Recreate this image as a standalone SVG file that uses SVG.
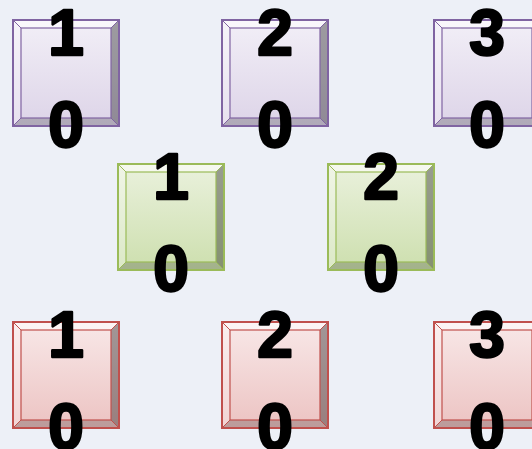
<svg xmlns="http://www.w3.org/2000/svg" width="532" height="449" viewBox="0 0 532 449">
<defs>
<linearGradient id="gp" x1="0" y1="0" x2="0" y2="1"><stop offset="0" stop-color="#f2eff7"/><stop offset="1" stop-color="#ddd4e8"/></linearGradient>
<linearGradient id="gg" x1="0" y1="0" x2="0" y2="1"><stop offset="0" stop-color="#eaf1dd"/><stop offset="1" stop-color="#cddfae"/></linearGradient>
<linearGradient id="gr" x1="0" y1="0" x2="0" y2="1"><stop offset="0" stop-color="#f8e8e8"/><stop offset="1" stop-color="#ecc3c2"/></linearGradient>
<g id="bev">
<path d="M0,0 L106,0 L98,8 L8,8 Z" fill="#ffffff" fill-opacity="0.55"/>
<path d="M0,0 L8,8 L8,98 L0,106 Z" fill="#ffffff" fill-opacity="0.3"/>
<path d="M106,0 L106,106 L98,98 L98,8 Z" fill="#000000" fill-opacity="0.35"/>
<path d="M0,106 L8,98 L98,98 L106,106 Z" fill="#000000" fill-opacity="0.2"/>
</g>
</defs>
<style>
.t{font-family:"Liberation Sans",Arial,sans-serif;font-weight:bold;font-size:64px;fill:#000;stroke:#000;stroke-width:2.5;stroke-linejoin:round;text-anchor:middle}
.p{stroke:#8064a2}.g{stroke:#9bbb59}.r{stroke:#c0504d}
.o{stroke-width:2}.i{fill:none;stroke-width:1.2}
</style>
<rect width="532" height="449" fill="#edf0f7"/>
<g id="p1" transform="translate(13,20)"><rect width="106" height="106" fill="url(#gp)"/><use href="#bev"/><rect x="8" y="8" width="90" height="90" class="i p"/><path d="M0,0 L8,8 M106,0 L98,8 M0,106 L8,98 M106,106 L98,98" class="p" stroke-width="1"/><rect width="106" height="106" fill="none" class="o p"/><text class="t" x="53" y="35">1</text><text class="t" x="53" y="127">0</text></g>
<g id="p2" transform="translate(222,20)"><rect width="106" height="106" fill="url(#gp)"/><use href="#bev"/><rect x="8" y="8" width="90" height="90" class="i p"/><path d="M0,0 L8,8 M106,0 L98,8 M0,106 L8,98 M106,106 L98,98" class="p" stroke-width="1"/><rect width="106" height="106" fill="none" class="o p"/><text class="t" x="53" y="35">2</text><text class="t" x="53" y="127">0</text></g>
<g id="p3" transform="translate(434,20)"><rect width="106" height="106" fill="url(#gp)"/><use href="#bev"/><rect x="8" y="8" width="90" height="90" class="i p"/><path d="M0,0 L8,8 M106,0 L98,8 M0,106 L8,98 M106,106 L98,98" class="p" stroke-width="1"/><rect width="106" height="106" fill="none" class="o p"/><text class="t" x="53" y="35">3</text><text class="t" x="53" y="127">0</text></g>
<g id="g1" transform="translate(118,164)"><rect width="106" height="106" fill="url(#gg)"/><use href="#bev"/><rect x="8" y="8" width="90" height="90" class="i g"/><path d="M0,0 L8,8 M106,0 L98,8 M0,106 L8,98 M106,106 L98,98" class="g" stroke-width="1"/><rect width="106" height="106" fill="none" class="o g"/><text class="t" x="53" y="35">1</text><text class="t" x="53" y="127">0</text></g>
<g id="g2" transform="translate(328,164)"><rect width="106" height="106" fill="url(#gg)"/><use href="#bev"/><rect x="8" y="8" width="90" height="90" class="i g"/><path d="M0,0 L8,8 M106,0 L98,8 M0,106 L8,98 M106,106 L98,98" class="g" stroke-width="1"/><rect width="106" height="106" fill="none" class="o g"/><text class="t" x="53" y="35">2</text><text class="t" x="53" y="127">0</text></g>
<g id="r1" transform="translate(13,322)"><rect width="106" height="106" fill="url(#gr)"/><use href="#bev"/><rect x="8" y="8" width="90" height="90" class="i r"/><path d="M0,0 L8,8 M106,0 L98,8 M0,106 L8,98 M106,106 L98,98" class="r" stroke-width="1"/><rect width="106" height="106" fill="none" class="o r"/><text class="t" x="53" y="35">1</text><text class="t" x="53" y="127">0</text></g>
<g id="r2" transform="translate(222,322)"><rect width="106" height="106" fill="url(#gr)"/><use href="#bev"/><rect x="8" y="8" width="90" height="90" class="i r"/><path d="M0,0 L8,8 M106,0 L98,8 M0,106 L8,98 M106,106 L98,98" class="r" stroke-width="1"/><rect width="106" height="106" fill="none" class="o r"/><text class="t" x="53" y="35">2</text><text class="t" x="53" y="127">0</text></g>
<g id="r3" transform="translate(434,322)"><rect width="106" height="106" fill="url(#gr)"/><use href="#bev"/><rect x="8" y="8" width="90" height="90" class="i r"/><path d="M0,0 L8,8 M106,0 L98,8 M0,106 L8,98 M106,106 L98,98" class="r" stroke-width="1"/><rect width="106" height="106" fill="none" class="o r"/><text class="t" x="53" y="35">3</text><text class="t" x="53" y="127">0</text></g>
<g id="connectors"/>
</svg>
